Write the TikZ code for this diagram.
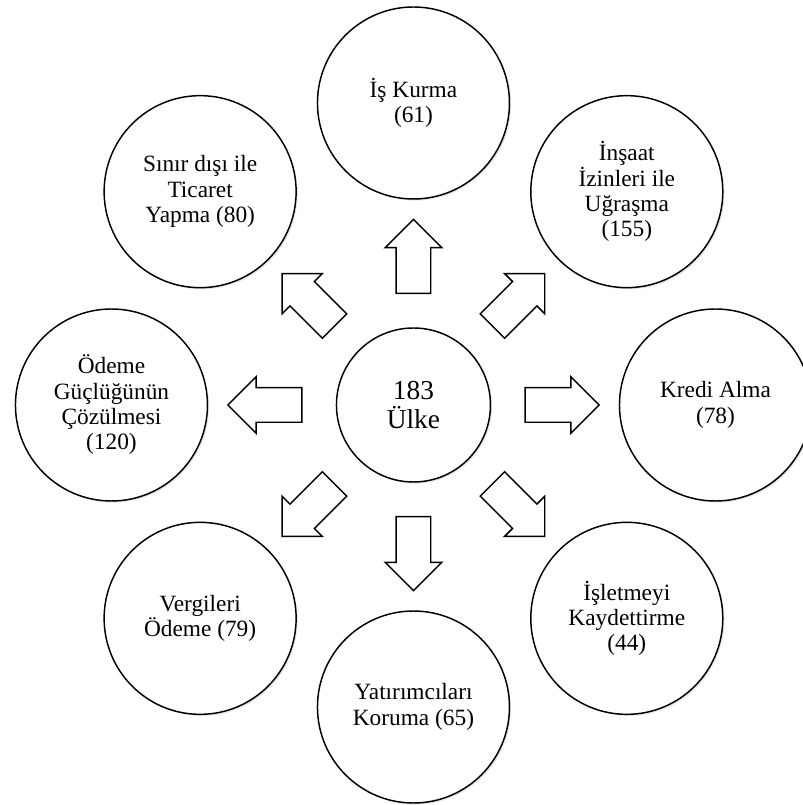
\documentclass[tikz,border=0pt]{standalone}
\usepackage{fontspec}
\setmainfont{Liberation Serif}
\usepackage{tikz}
\usetikzlibrary{shapes.arrows, positioning, shadows}
\tikzset{
  hub/.style={circle,draw=black,line width=1.1pt,fill=white,
    minimum size=115.5pt,inner sep=0pt,align=center,
    font=\fontsize{20.5}{22}\selectfont,
    drop shadow={shadow xshift=1.2pt,shadow yshift=-1.2pt,opacity=0.25,fill=black!40}},
  area/.style={circle,draw=black,line width=1.1pt,fill=white,
    minimum size=144pt,inner sep=0pt,align=center,
    font=\fontsize{17.5}{19}\selectfont,
    drop shadow={shadow xshift=1.2pt,shadow yshift=-1.2pt,opacity=0.25,fill=black!40}},
  blockarrow/.style={single arrow,draw=black,line width=1.1pt,fill=white,
    minimum height=55.5pt,inner xsep=0pt,inner ysep=12.4pt,
    single arrow head extend=8.25pt,single arrow tip angle=90}
}

\begin{document}
\begin{tikzpicture}[node distance=226.5pt, on grid]
  \useasboundingbox (-310.1pt,-300pt) rectangle (292.1pt,303.75pt);
  \clip (-310.1pt,-300pt) rectangle (292.1pt,303.75pt);

  \node[hub] (ulke) {183\\ Ülke};

  \node[area, above=of ulke] (kurma) {İş Kurma\\ (61)};
  \node[area, above right=160pt and 160pt of ulke]
    (insaat) {İnşaat\\ İzinleri ile\\ Uğraşma\\ (155)};
  \node[area, right=of ulke] (kredi) {Kredi Alma\\ (78)};
  \node[area, below right=160pt and 160pt of ulke]
    (kayit) {İşletmeyi\\ Kaydettirme\\ (44)};
  \node[area, below=of ulke] (yatirim) {Yatırımcıları\\ Koruma (65)};
  \node[area, below left=160pt and 160pt of ulke]
    (vergi) {Vergileri\\ Ödeme (79)};
  \node[area, left=of ulke]
    (odeme) {Ödeme\\ Güçlüğünün\\ Çözülmesi\\ (120)};
  \node[area, above left=160pt and 160pt of ulke]
    (sinir) {Sınır dışı ile\\ Ticaret\\ Yapma (80)};

  % block arrows pointing outwards
  \node[blockarrow, rotate=90, above=105pt of ulke] (a-kurma) {};
  \node[blockarrow, rotate=45, above right=74.25pt and 74.25pt of ulke] (a-insaat) {};
  \node[blockarrow, rotate=0, right=105pt of ulke] (a-kredi) {};
  \node[blockarrow, rotate=-45, below right=74.25pt and 74.25pt of ulke] (a-kayit) {};
  \node[blockarrow, rotate=-90, below=105pt of ulke] (a-yatirim) {};
  \node[blockarrow, rotate=-135, below left=74.25pt and 74.25pt of ulke] (a-vergi) {};
  \node[blockarrow, rotate=180, left=105pt of ulke] (a-odeme) {};
  \node[blockarrow, rotate=135, above left=74.25pt and 74.25pt of ulke] (a-sinir) {};
\end{tikzpicture}
\end{document}
